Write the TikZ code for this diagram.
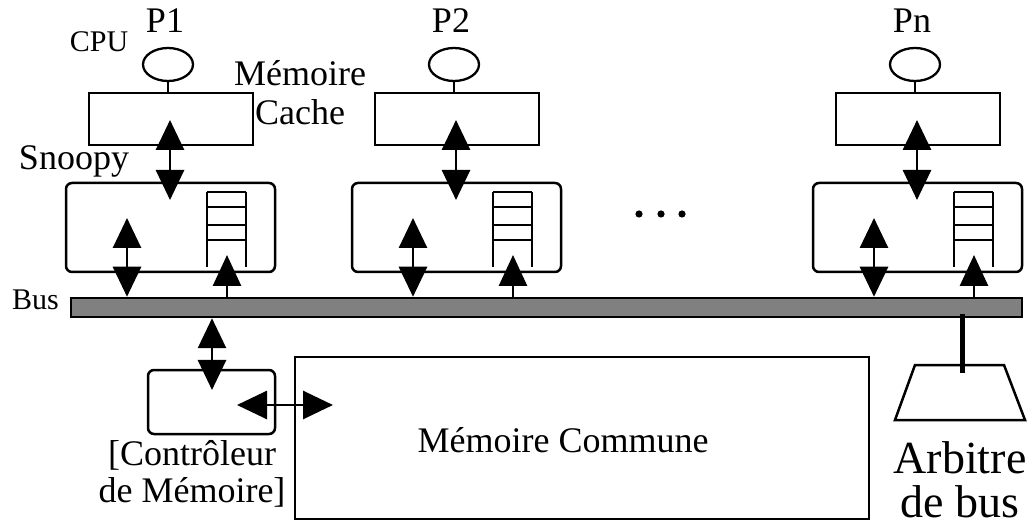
\documentclass[tikz,border=0pt]{standalone}
\usepackage{fontspec}
\setmainfont{Liberation Serif}
\usetikzlibrary{arrows.meta,shapes.geometric}
\begin{document}
\begin{tikzpicture}[x=1pt,y=-1pt,
  box/.style={draw,line width=2.5pt,inner sep=0pt},
  rbox/.style={box,rounded corners=6pt},
  cpushape/.style={draw,line width=2.3pt,ellipse,inner sep=0pt,minimum width=50pt,minimum height=33pt},
  link/.style={line width=2.8pt},
  dbl/.style={link,{Triangle[length=30pt,width=28pt]}-{Triangle[length=30pt,width=28pt]}},
  sgl/.style={link,-{Triangle[length=31pt,width=28pt]}},
  lbl/.style={font=\fontsize{36}{40}\selectfont,anchor=base,inner sep=0pt},
  smalllbl/.style={font=\fontsize{30}{34}\selectfont,anchor=base,inner sep=0pt},
  biglbl/.style={font=\fontsize{46}{50}\selectfont,anchor=base,inner sep=0pt},
  queue/.style={line width=2.3pt}
]
\useasboundingbox (0,0) rectangle (1031,529);

% bus
\node[box,fill=gray,minimum width=951pt,minimum height=19pt] (bus) at (546.5,307.5) {};
\node[smalllbl] (buslbl) at (35.5,310) {Bus};

% processors
\foreach \dx/\n/\lab in {0/1/P1,286/2/P2,747/n/Pn}{
  \node[cpushape] (cpu\n) at (168+\dx,64.5) {};
  \node[lbl] (plab\n) at (165+\dx,33) {\lab};
  \node[box,minimum width=164pt,minimum height=52pt] (cache\n) at (171+\dx,119) {};
  \node[rbox,minimum width=209pt,minimum height=89pt] (snoop\n) at (170.5+\dx,227.5) {};
  \draw[line width=2.3pt] (cpu\n.south) -- (cpu\n.south |- cache\n.north);
  \coordinate (ca\n) at (170+\dx,120);
  \coordinate (sa\n) at (170+\dx,200);
  \draw[dbl] (ca\n) -- (sa\n);
  \coordinate (sl\n) at (127+\dx,218);
  \draw[dbl] (sl\n) -- (sl\n |- bus.north);
  \coordinate (sr\n) at (227+\dx,255);
  \draw[sgl] (sr\n |- bus.north) -- (sr\n);
  % queue
  \draw[queue] (207+\dx,192) -- (207+\dx,267);
  \draw[queue] (246+\dx,192) -- (246+\dx,267);
  \foreach \yy in {192,207,225,240}{
    \draw[queue] (207+\dx,\yy) -- (246+\dx,\yy);
  }
}

% labels around P1
\node[smalllbl] (cpulbl) at (99,52) {CPU};
\node[lbl] (memlbl) at (300,86) {Mémoire};
\node[lbl] (cachelbl) at (300,125) {Cache};
\node[lbl] (snooplbl) at (74,170) {Snoopy};

% dots
\foreach \xx in {639,661,682}{
  \fill (\xx,214) circle (3.6pt);
}

% memory controller
\node[rbox,minimum width=127pt,minimum height=64pt] (ctrl) at (211.5,402) {};
\coordinate (ctop) at (212,390);
\draw[dbl] (ctop |- bus.south) -- (ctop);
\node[lbl] (ctrllbl1) at (192,465) {[Contrôleur};
\node[lbl] (ctrllbl2) at (192,502) {de Mémoire]};

% common memory
\node[box,minimum width=574pt,minimum height=162pt] (mem) at (582,438) {};
\node[lbl] (memclbl) at (563,452) {Mémoire Commune};
\coordinate (cl) at (237,405);
\coordinate (mr) at (333,405);
\draw[dbl] (cl) -- (mr);

% arbiter
\draw[line width=2.5pt] (915,365) -- (1004,365) -- (1025,420) -- (895,420) -- cycle;
\coordinate (arbtop) at (962,373);
\draw[line width=5pt] ([yshift=4pt]bus.south -| arbtop) -- (arbtop);
\node[biglbl] (arblbl1) at (960,473) {Arbitre};
\node[biglbl] (arblbl2) at (960,517) {de bus};
\end{tikzpicture}
\end{document}
